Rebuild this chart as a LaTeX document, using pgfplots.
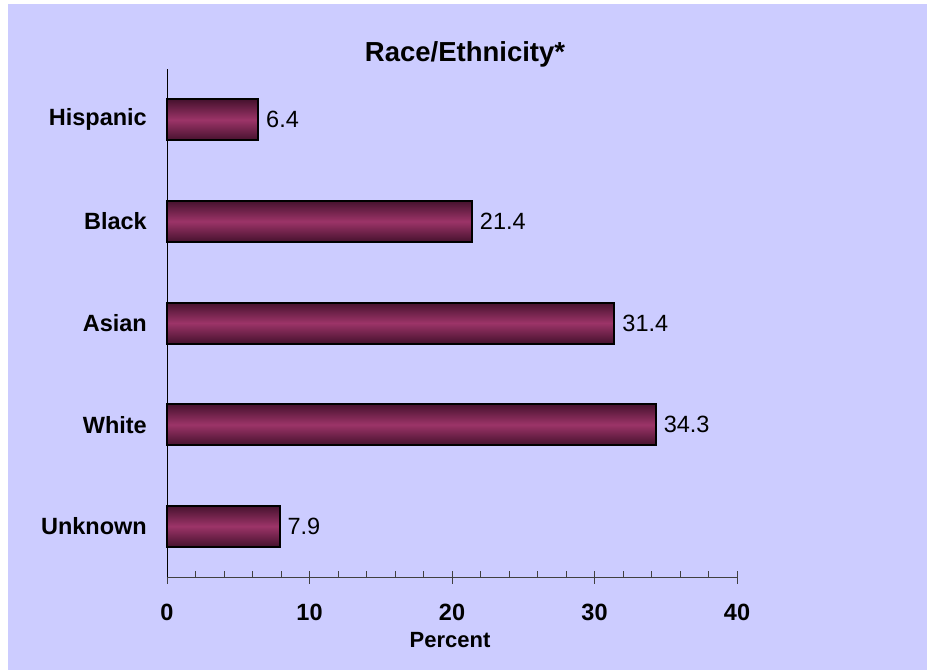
\documentclass[border=0pt]{standalone}
\usepackage{fontspec}
\setmainfont{Liberation Sans}
\usepackage{pgfplots}
\pgfplotsset{compat=1.18}
\definecolor{bg}{RGB}{204,204,255}
\definecolor{bardark}{RGB}{70,18,46}
\definecolor{barmid}{RGB}{156,52,104}
\definecolor{axgray}{RGB}{64,64,64}
\newcommand{\fs}{\fontsize{23.5bp}{28bp}\selectfont}
\begin{document}
\begin{tikzpicture}[x=1bp,y=1bp]
\path[fill=white] (0,0) rectangle (927,-670);
\path[fill=bg] (8,-4) rectangle (927,-670);
\begin{axis}[
  at={(167bp,-577bp)}, anchor=south west,
  scale only axis, width=570bp, height=508bp,
  xmin=0, xmax=40, ymin=-0.5, ymax=4.5,
  axis lines*=left,
  x axis line style={draw=axgray, line width=1bp},
  y axis line style={draw=black, line width=1bp},
  xtick={0,10,20,30,40}, minor x tick num=4,
  tick align=inside,
  major tick length=13bp, minor tick length=6bp,
  xtick style={draw=axgray, line width=1bp},
  major tick style={yshift=-6.5bp},
  ytick={0,1,2,3,4},
  yticklabels={Unknown,White,Asian,Black,Hispanic},
  ytick style={draw=none},
  xticklabel style={font=\fs\bfseries, anchor=north, inner sep=0pt, yshift=-27bp},
  yticklabel style={font=\fs\bfseries, anchor=east, inner sep=0pt, xshift=-7bp},
  /pgf/number format/assume math mode=true,
  xbar, bar width=41bp, bar shift=0pt,
  nodes near coords, point meta=explicit symbolic,
  every node near coord/.append style={font=\fs, anchor=west, inner sep=0pt, xshift=7bp, black},
  clip=false,
  barstyle/.style={xbar, bar shift=0pt, draw=black, line width=2bp, top color=bardark, bottom color=bardark, middle color=barmid},
]
\addplot[barstyle] coordinates {(7.9,0)[7.9]};
\addplot[barstyle] coordinates {(34.3,1)[34.3]};
\addplot[barstyle] coordinates {(31.4,2)[31.4]};
\addplot[barstyle] coordinates {(21.4,3)[21.4]};
\addplot[barstyle] coordinates {(6.4,4)[6.4]};
\end{axis}
\node[font=\fontsize{27.5bp}{32bp}\selectfont\bfseries, anchor=base, inner sep=0pt] at (465,-62) {Race/Ethnicity*};
\node[font=\fontsize{22bp}{26bp}\selectfont\bfseries, anchor=north, inner sep=0pt] at (450,-632) {Percent};
\end{tikzpicture}
\end{document}
